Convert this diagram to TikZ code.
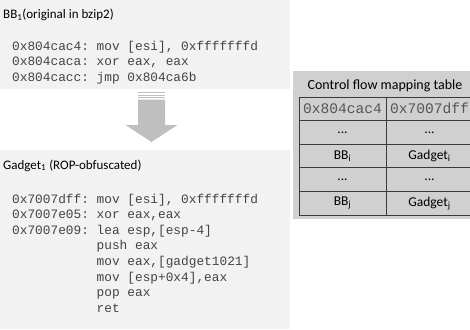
\documentclass[tikz,border=0pt]{standalone}
\usepackage{fontspec}
\setmainfont{Carlito}
\setmonofont{Liberation Mono}
\definecolor{codebg}{HTML}{F2F2F2}
\definecolor{tablebg}{HTML}{D0D0D0}
\definecolor{tableline}{HTML}{3A3A3A}
\definecolor{arrowgray}{HTML}{BFBFBF}
\definecolor{codeink}{HTML}{444444}
\definecolor{addrink}{HTML}{555555}
\tikzset{
  title/.style={anchor=base west, inner sep=0pt, font=\fontsize{13}{15}\selectfont},
  codeline/.style={anchor=base west, inner sep=0pt, text=codeink,
    font=\fontsize{12.8}{15}\selectfont\ttfamily},
  cell/.style={draw=tableline, line width=0.9pt, fill=tablebg, inner sep=0pt,
    minimum width=87pt, minimum height=23.6pt, font=\fontsize{13.5}{15}\selectfont},
  addrcell/.style={cell, text=addrink, font=\fontsize{14.6}{16}\selectfont\ttfamily},
}
\begin{document}
\begin{tikzpicture}[x=1pt,y=-1pt]
\useasboundingbox (0,0) rectangle (470,329);
\clip (0,0) rectangle (470,329);

% basic block (original)
\fill[codebg] (0,0) rectangle (290,89);
\node[title] (bbtitle) at (3,19) {BB\textsubscript{1}(original in bzip2)};
\node[codeline] (c1) at (12,50) {0x804cac4: mov [esi], 0xfffffffd};
\node[codeline] (c2) at (12,65.5) {0x804caca: xor eax, eax};
\node[codeline] (c3) at (12,81) {0x804cacc: jmp 0x804ca6b};

% striped down arrow
\fill[arrowgray] (138,92) rectangle (165,93.2);
\fill[arrowgray] (138,94.5) rectangle (165,95.7);
\fill[arrowgray] (138,97) rectangle (165,98.2);
\fill[arrowgray] (138,99.5) -- (165,99.5) -- (165,125) -- (177.5,125)
  -- (151.5,142) -- (125.5,125) -- (138,125) -- cycle;

% gadget (ROP-obfuscated)
\fill[codebg] (0,150) rectangle (290,329);
\node[title] (gtitle) at (3,169) {Gadget\textsubscript{1} (ROP-obfuscated)};
\node[codeline] (g1) at (12,203) {0x7007dff: mov [esi], 0xfffffffd};
\node[codeline] (g2) at (12,218.6) {0x7007e05: xor eax,eax};
\node[codeline] (g3) at (12,234.2) {0x7007e09: lea esp,[esp-4]};
\node[codeline] (g4) at (12,249.8) {\hphantom{0x7007e09: }push eax};
\node[codeline] (g5) at (12,265.4) {\hphantom{0x7007e09: }mov eax,[gadget1021]};
\node[codeline] (g6) at (12,281) {\hphantom{0x7007e09: }mov [esp+0x4],eax};
\node[codeline] (g7) at (12,296.6) {\hphantom{0x7007e09: }pop eax};
\node[codeline] (g8) at (12,312.2) {\hphantom{0x7007e09: }ret};

% control flow mapping table
\fill[tablebg] (293,71) rectangle (475,219);
\node[inner sep=0pt, font=\fontsize{14}{16}\selectfont] (ttitle) at (385,86) {Control flow mapping table};
\node[addrcell] (r1a) at (342.5,108.8) {0x804cac4};
\node[addrcell] (r1b) at (429.5,108.8) {0x7007dff};
\node[cell] (r2a) at (342.5,132.4) {...};
\node[cell] (r2b) at (429.5,132.4) {...};
\node[cell] (r3a) at (342.5,156) {BB\textsubscript{i}};
\node[cell] (r3b) at (429.5,156) {Gadget\textsubscript{i}};
\node[cell] (r4a) at (342.5,179.6) {...};
\node[cell] (r4b) at (429.5,179.6) {...};
\node[cell] (r5a) at (342.5,203.2) {BB\textsubscript{j}};
\node[cell] (r5b) at (429.5,203.2) {Gadget\textsubscript{j}};
\end{tikzpicture}
\end{document}
